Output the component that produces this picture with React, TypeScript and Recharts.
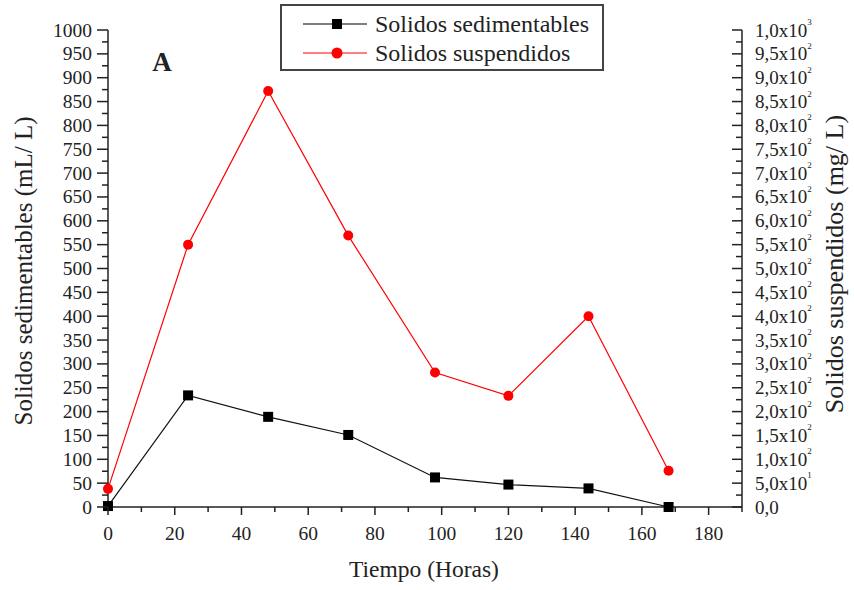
import { LineChart, Line, XAxis, YAxis, Legend, Label } from 'recharts'

// hours of sampling
const hours = [0, 24, 48, 72, 98, 120, 144, 168]
// settleable solids, mL/L (left axis)
const sedimentables = [2, 234, 189, 151, 62, 47, 39, 0]
// suspended solids, mg/L (right axis)
const suspendidos = [38, 550, 872, 569, 282, 233, 400, 76]

const xTicks = [0, 10, 20, 30, 40, 50, 60, 70, 80, 90, 100, 110, 120, 130, 140, 150, 160, 170, 180, 190]
const xLabels = ['0', '20', '40', '60', '80', '100', '120', '140', '160', '180']
const yTicks = [
  0, 25, 50, 75, 100, 125, 150, 175, 200, 225, 250, 275, 300, 325, 350, 375, 400, 425, 450, 475, 500,
  525, 550, 575, 600, 625, 650, 675, 700, 725, 750, 775, 800, 825, 850, 875, 900, 925, 950, 975, 1000,
]
const rightLabels = [
  '0,0', '5,0x10^1', '1,0x10^2', '1,5x10^2', '2,0x10^2', '2,5x10^2', '3,0x10^2', '3,5x10^2',
  '4,0x10^2', '4,5x10^2', '5,0x10^2', '5,5x10^2', '6,0x10^2', '6,5x10^2', '7,0x10^2', '7,5x10^2',
  '8,0x10^2', '8,5x10^2', '9,0x10^2', '9,5x10^2', '1,0x10^3',
]

const data = hours.map((t, i) => ({ t, sed: sedimentables[i], sus: suspendidos[i] }))

const ink = '#222'
const red = '#ff0000'
const serif = 'Liberation Serif'

const LeftTick = ({ x, y, payload }: any) => {
  const v = payload.value
  const major = v % 50 === 0
  return (
    <g>
      <line x1={x - (major ? 11 : 6)} x2={x} y1={y} y2={y} stroke={ink} strokeWidth={1.5} />
      {major && (
        <text x={x - 16} y={y} textAnchor="end" dominantBaseline="central" style={{ fontFamily: serif, fontSize: 19.5 }} fill={ink}>
          {v}
        </text>
      )}
    </g>
  )
}

const RightTick = ({ x, y, payload }: any) => {
  const v = payload.value
  const major = v % 50 === 0
  const [base, exp] = major ? rightLabels[v / 50].split('^') : ['', '']
  return (
    <g>
      <line x1={x - (major ? 10 : 6)} x2={x} y1={y} y2={y} stroke={ink} strokeWidth={1.5} />
      {major && (
        <text x={x + 13} y={y} dominantBaseline="central" style={{ fontFamily: serif, fontSize: 19 }} fill={ink}>
          {base}
          {exp && (
            <tspan dy={-8} style={{ fontSize: 9 }}>
              {exp}
            </tspan>
          )}
        </text>
      )}
    </g>
  )
}

const BottomTick = ({ x, y, payload }: any) => {
  const v = payload.value
  const major = v % 20 === 0
  return (
    <g>
      <line x1={x} x2={x} y1={y} y2={y + (major ? 8 : 5)} stroke={ink} strokeWidth={1.5} />
      {major && v <= 180 && (
        <text x={x} y={y + 26} textAnchor="middle" dominantBaseline="central" style={{ fontFamily: serif, fontSize: 19.5 }} fill={ink}>
          {xLabels[v / 20]}
        </text>
      )}
    </g>
  )
}

const Square = (p: any) => (
  <rect key={p.key ?? `sq-${p.index}`} x={p.cx - 5} y={p.cy - 5} width={10} height={10} fill="#000" />
)
const Dot = (p: any) => <circle key={p.key ?? `ci-${p.index}`} cx={p.cx} cy={p.cy} r={5} fill={red} />

const LegendBox = () => (
  <div
    style={{
      width: 324,
      height: 67,
      boxSizing: 'border-box',
      border: '2px solid #444',
      background: '#fff',
      fontFamily: serif,
      fontSize: 24,
      color: ink,
      position: 'relative',
    }}
  >
    {[
      { name: 'Solidos sedimentables', color: '#000', square: true },
      { name: 'Solidos suspendidos', color: red, square: false },
    ].map((e, i) => (
      <div key={e.name} style={{ position: 'absolute', left: 0, top: 4 + i * 29, height: 28, display: 'flex', alignItems: 'center' }}>
        <svg width={92} height={28}>
          <line x1={21} x2={85} y1={14} y2={14} stroke={e.color} strokeWidth={1.2} />
          {e.square ? <rect x={50} y={9} width={10} height={10} fill="#000" /> : <circle cx={55} cy={14} r={5.5} fill={red} />}
        </svg>
        <span style={{ marginLeft: 1, lineHeight: '28px', whiteSpace: 'nowrap' }}>{e.name}</span>
      </div>
    ))}
  </div>
)

export default function App() {
  return (
    <div style={{ position: 'absolute', left: 0, top: 0, width: 854, height: 590, background: '#fff', fontFamily: serif }}>
      <LineChart width={854} height={590} data={data} margin={{ top: 30, right: 32, bottom: 43, left: 48 }}>
        <XAxis
          dataKey="t"
          type="number"
          domain={[0, 190]}
          ticks={xTicks}
          interval={0}
          height={40}
          tickSize={0}
          tickMargin={0}
          tick={<BottomTick />}
          axisLine={{ stroke: ink, strokeWidth: 1.5 }}
        >
          <Label
            content={() => (
              <text x={424} y={569} textAnchor="middle" dominantBaseline="central" style={{ fontFamily: serif, fontSize: 23.5 }} fill={ink}>
                Tiempo (Horas)
              </text>
            )}
          />
        </XAxis>
        <YAxis
          yAxisId="left"
          domain={[0, 1000]}
          ticks={yTicks}
          interval={0}
          width={60}
          tickSize={0}
          tickMargin={0}
          tick={<LeftTick />}
          axisLine={{ stroke: ink, strokeWidth: 1.5 }}
        >
          <Label
            content={() => (
              <text
                x={23}
                y={271}
                transform="rotate(-90 23 271)"
                textAnchor="middle"
                dominantBaseline="central"
                style={{ fontFamily: serif, fontSize: 25 }}
                fill={ink}
              >
                Solidos sedimentables (mL/ L)
              </text>
            )}
          />
        </YAxis>
        <YAxis
          yAxisId="right"
          orientation="right"
          domain={[0, 1000]}
          ticks={yTicks}
          interval={0}
          width={80}
          tickSize={0}
          tickMargin={0}
          tick={<RightTick />}
          axisLine={{ stroke: ink, strokeWidth: 1.5 }}
        >
          <Label
            content={() => (
              <text
                x={834}
                y={264}
                transform="rotate(-90 834 264)"
                textAnchor="middle"
                dominantBaseline="central"
                style={{ fontFamily: serif, fontSize: 26 }}
                fill={ink}
              >
                Solidos suspendidos (mg/ L)
              </text>
            )}
          />
        </YAxis>
        <Legend
          layout="horizontal"
          verticalAlign="middle"
          align="center"
          wrapperStyle={{ left: 280, top: 4, width: 324, height: 67 }}
          content={() => <LegendBox />}
        />
        <Line
          yAxisId="left"
          dataKey="sed"
          type="linear"
          stroke="#111"
          strokeWidth={1.2}
          dot={Square}
          activeDot={false}
          isAnimationActive={false}
        />
        <Line
          yAxisId="right"
          dataKey="sus"
          type="linear"
          stroke={red}
          strokeWidth={1.2}
          dot={Dot}
          activeDot={false}
          isAnimationActive={false}
        />
        <text x={162} y={71} textAnchor="middle" style={{ fontFamily: serif, fontSize: 27, fontWeight: 'bold' }} fill={ink}>
          A
        </text>
      </LineChart>
    </div>
  )
}
